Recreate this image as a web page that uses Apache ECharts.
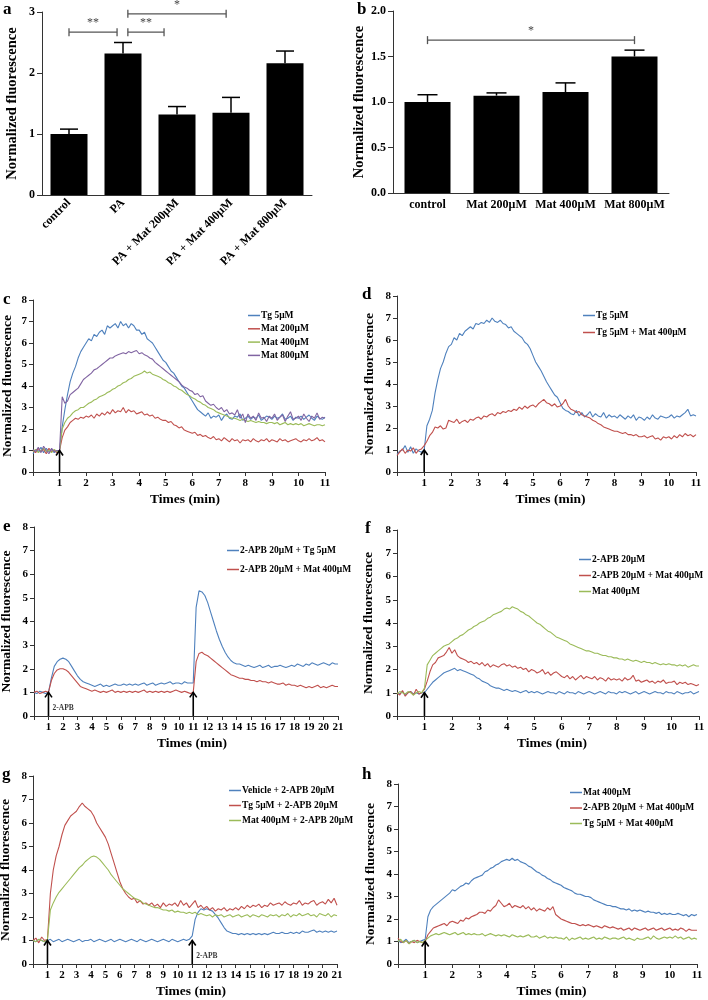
<!DOCTYPE html>
<html><head><meta charset="utf-8">
<script src="https://cdn.jsdelivr.net/npm/echarts/dist/echarts.min.js"></script>
<style>html,body{margin:0;padding:0;background:#fff}#main{width:708px;height:1000px}</style>
</head><body><div id="main"></div>
<script>
// ---------- DATA ----------
// Panel a
const aCategories = ['control', 'PA', 'PA + Mat 200μM', 'PA + Mat 400μM', 'PA + Mat 800μM'];
const aMeans = [1.00, 2.32, 1.32, 1.35, 2.16];
const aErrTop = [1.08, 2.50, 1.45, 1.60, 2.36];
const aSig = [[0.0, 0.89, 2.67, '**'], [1.09, 1.76, 2.67, '**'], [1.09, 2.91, 2.97, '*']];
// Panel b
const bCategories = ['control', 'Mat 200μM', 'Mat 400μM', 'Mat 800μM'];
const bMeans = [1.00, 1.07, 1.11, 1.50];
const bErrTop = [1.08, 1.10, 1.21, 1.57];
const bSig = [[0.0, 3.0, 1.68, '*']];

// Traces: panels c, d, f, h sampled every 0.1 min (0–11); e, g every 0.2 min (0–21)
const cTg = [0.85,1.05,0.95,1.15,0.9,1.1,0.95,1.05,0.9,1.0,
1.0,2.1,2.9,3.6,4.2,4.6,4.9,5.3,5.6,5.8,
6.0,6.2,6.1,6.4,6.3,6.5,6.6,6.4,6.8,6.7,
6.8,6.9,6.7,7.0,6.8,6.9,6.7,6.9,6.8,6.6,
6.6,6.4,6.5,6.2,6.1,6.0,5.8,5.6,5.4,5.2,
5.1,4.9,4.7,4.6,4.4,4.2,4.0,3.9,3.7,3.5,
3.3,3.1,2.9,2.8,2.7,2.6,2.75,2.5,2.6,2.55,
2.65,2.4,2.6,2.7,2.5,2.45,2.6,2.55,2.7,2.4,
2.5,2.6,2.45,2.55,2.5,2.65,2.4,2.5,2.6,2.55,
2.45,2.6,2.5,2.55,2.7,2.45,2.5,2.6,2.4,2.55,
2.5,2.6,2.45,2.55,2.65,2.5,2.4,2.6,2.5,2.45,2.55];
const cMat200 = [1.0,0.9,1.1,0.95,1.05,0.85,1.1,0.95,1.0,0.9,
1.0,1.6,1.95,2.1,2.3,2.4,2.5,2.45,2.55,2.5,
2.6,2.55,2.65,2.5,2.7,2.6,2.75,2.65,2.8,2.7,
2.9,2.75,2.85,2.8,3.0,2.75,2.9,2.8,2.85,2.7,
2.75,2.8,2.65,2.7,2.6,2.65,2.5,2.55,2.45,2.4,
2.4,2.3,2.35,2.2,2.15,2.05,2.1,1.95,1.9,1.85,
1.8,1.85,1.7,1.75,1.65,1.7,1.6,1.55,1.65,1.5,
1.55,1.45,1.6,1.5,1.4,1.55,1.45,1.5,1.35,1.5,
1.45,1.5,1.4,1.55,1.45,1.4,1.5,1.45,1.55,1.4,
1.5,1.45,1.4,1.55,1.45,1.5,1.4,1.45,1.5,1.55,
1.45,1.4,1.5,1.45,1.55,1.45,1.5,1.6,1.45,1.5,1.4];
const cMat400 = [0.95,1.05,0.9,1.0,1.1,0.95,1.0,0.9,1.05,0.95,
1.0,2.0,2.3,2.5,2.6,2.75,2.85,2.9,3.0,3.0,
3.1,3.2,3.25,3.35,3.4,3.5,3.55,3.6,3.7,3.75,
3.85,3.9,4.0,4.05,4.15,4.2,4.3,4.35,4.45,4.5,
4.55,4.6,4.7,4.6,4.65,4.55,4.5,4.45,4.4,4.3,
4.25,4.15,4.1,4.0,3.95,3.85,3.8,3.7,3.6,3.55,
3.45,3.4,3.3,3.25,3.15,3.1,3.0,2.95,2.9,2.8,
2.75,2.7,2.65,2.6,2.55,2.5,2.5,2.45,2.4,2.45,
2.4,2.35,2.4,2.35,2.3,2.35,2.3,2.3,2.25,2.3,
2.3,2.25,2.3,2.2,2.25,2.3,2.2,2.25,2.2,2.25,
2.2,2.25,2.15,2.2,2.25,2.2,2.15,2.2,2.2,2.15,2.2];
const cMat800 = [1.05,0.95,1.15,0.9,1.2,1.0,0.85,1.1,0.95,1.0,
1.0,3.5,3.2,3.3,3.6,3.7,3.8,3.9,4.1,4.3,
4.4,4.5,4.6,4.75,4.8,4.9,5.0,5.1,5.2,5.3,
5.3,5.4,5.45,5.5,5.55,5.5,5.6,5.55,5.6,5.65,
5.5,5.55,5.45,5.4,5.3,5.25,5.1,5.0,4.9,4.8,
4.7,4.6,4.5,4.4,4.3,4.2,4.05,3.95,3.9,3.8,
3.75,3.6,3.65,3.5,3.55,3.3,3.2,3.1,3.15,3.0,
2.9,3.0,2.8,2.9,2.7,2.75,2.65,2.9,2.5,2.7,
2.3,2.7,2.5,2.6,2.4,2.75,2.5,2.55,2.35,2.6,
2.5,2.7,2.4,2.55,2.65,2.35,2.6,2.8,2.45,2.5,
2.6,2.4,2.7,2.5,2.35,2.6,2.5,2.75,2.45,2.55,2.5];

const dTg = [0.8,0.95,1.0,1.2,0.9,1.15,0.85,1.05,0.95,0.9,
1.0,2.1,2.4,2.8,3.6,4.2,4.7,5.0,5.4,5.7,
5.8,6.1,6.0,6.3,6.2,6.4,6.5,6.6,6.5,6.75,
6.7,6.8,6.75,6.9,6.8,7.0,6.85,6.8,6.9,6.75,
6.7,6.55,6.6,6.4,6.3,6.2,6.1,5.9,5.8,5.6,
5.3,5.0,4.8,4.6,4.35,4.1,3.9,3.7,3.5,3.4,
3.15,2.9,2.8,2.75,2.65,2.6,2.8,2.55,2.7,2.5,
2.6,2.75,2.5,2.65,2.55,2.5,2.7,2.45,2.6,2.5,
2.55,2.45,2.6,2.5,2.4,2.55,2.45,2.6,2.35,2.5,
2.45,2.35,2.5,2.4,2.6,2.45,2.4,2.55,2.5,2.45,
2.5,2.6,2.45,2.55,2.5,2.6,2.7,2.85,2.55,2.6,2.55];
const dTgMat = [0.75,0.9,1.05,0.85,1.0,0.95,1.1,0.85,1.0,1.05,
1.2,1.4,1.65,1.8,2.05,2.0,2.1,1.95,2.0,2.35,
2.3,2.25,2.4,2.2,2.3,2.35,2.25,2.4,2.35,2.45,
2.5,2.4,2.55,2.5,2.6,2.65,2.55,2.7,2.65,2.75,
2.7,2.8,2.75,2.85,2.8,2.95,2.85,3.0,2.9,3.0,
3.05,2.95,3.1,3.2,3.3,3.15,3.1,3.0,3.1,2.95,
3.0,3.1,3.3,3.0,2.85,2.8,2.7,2.75,2.6,2.55,
2.5,2.45,2.35,2.3,2.2,2.15,2.05,2.0,1.95,1.9,
1.85,1.85,1.8,1.75,1.8,1.7,1.7,1.65,1.7,1.6,
1.6,1.65,1.55,1.6,1.65,1.5,1.55,1.45,1.6,1.55,
1.6,1.5,1.65,1.55,1.7,1.6,1.75,1.65,1.7,1.6,1.7];

const eApbTg = [1.0,0.95,1.05,1.0,0.95,
1.0,1.6,2.1,2.3,2.4,
2.45,2.4,2.3,2.1,1.9,
1.7,1.55,1.45,1.4,1.35,
1.3,1.25,1.3,1.35,1.25,
1.3,1.25,1.3,1.35,1.3,
1.3,1.35,1.3,1.35,1.3,
1.35,1.3,1.35,1.4,1.3,
1.35,1.4,1.3,1.35,1.4,
1.35,1.4,1.45,1.35,1.4,
1.4,1.35,1.45,1.4,1.4,
1.4,4.6,5.3,5.25,5.1,
4.8,4.4,4.0,3.6,3.25,
2.95,2.7,2.5,2.35,2.25,
2.2,2.2,2.15,2.1,2.15,
2.1,2.05,2.1,2.15,2.05,
2.1,2.15,2.05,2.1,2.1,
2.15,2.1,2.05,2.1,2.15,
2.1,2.2,2.15,2.1,2.2,
2.15,2.25,2.2,2.15,2.2,
2.25,2.2,2.15,2.25,2.2,
2.2];
const eApbMat = [1.0,1.05,0.95,1.0,1.05,
1.0,1.5,1.8,1.95,2.0,
2.0,1.95,1.85,1.7,1.55,
1.4,1.25,1.2,1.15,1.1,
1.05,1.1,1.05,1.0,1.05,
1.0,1.05,1.1,1.0,1.05,
1.0,1.05,1.0,1.05,1.0,
1.05,1.0,1.05,1.1,1.0,
1.05,1.0,1.05,1.0,1.05,
1.0,1.05,1.0,1.05,1.1,
1.05,1.0,1.05,1.0,0.95,
1.0,2.3,2.65,2.7,2.6,
2.55,2.45,2.35,2.25,2.15,
2.05,1.95,1.85,1.75,1.7,
1.65,1.6,1.6,1.55,1.55,
1.5,1.5,1.45,1.5,1.45,
1.45,1.4,1.45,1.4,1.35,
1.35,1.4,1.3,1.35,1.3,
1.3,1.25,1.3,1.25,1.2,
1.25,1.2,1.25,1.3,1.2,
1.25,1.2,1.25,1.3,1.25,
1.25];

const fApb = [1.0,0.95,1.05,0.9,1.0,1.05,0.95,1.0,0.95,1.0,
1.0,1.15,1.3,1.45,1.55,1.65,1.75,1.85,1.9,1.95,
2.0,2.05,1.95,2.0,1.95,1.9,1.85,1.8,1.75,1.65,
1.6,1.5,1.45,1.4,1.3,1.25,1.2,1.2,1.15,1.1,
1.15,1.1,1.05,1.1,1.05,1.0,1.05,1.1,1.0,1.05,
1.0,1.05,1.0,0.95,1.0,1.05,1.0,1.0,0.95,1.05,
1.0,0.95,1.05,1.0,1.0,0.95,1.05,1.0,0.95,1.0,
1.05,1.0,0.95,1.0,1.05,1.0,0.95,1.05,1.0,1.0,
0.95,1.05,1.0,1.05,1.0,0.95,1.0,1.05,0.95,1.0,
1.05,1.0,0.95,1.0,1.05,1.0,1.0,0.95,1.05,1.0,
1.0,0.95,1.05,1.0,0.95,1.0,1.0,1.05,0.95,1.0,1.05];
const fApbMat = [1.0,0.9,1.1,0.85,1.0,1.05,0.9,1.15,0.95,1.0,
1.15,1.5,1.9,2.2,2.3,2.5,2.55,2.6,2.75,2.95,
2.7,2.85,2.6,2.5,2.45,2.4,2.3,2.35,2.25,2.3,
2.2,2.3,2.15,2.25,2.1,2.2,2.15,2.1,2.2,2.25,
2.15,2.2,2.1,2.15,2.05,2.1,2.0,2.05,1.9,2.0,
1.95,1.85,1.9,2.0,1.8,1.9,1.75,1.85,1.9,1.8,
1.7,1.65,1.75,1.6,1.7,1.55,1.65,1.75,1.6,1.7,
1.65,1.6,1.7,1.55,1.65,1.6,1.5,1.65,1.55,1.6,
1.55,1.6,1.5,1.65,1.55,1.6,1.75,1.5,1.55,1.45,
1.5,1.55,1.45,1.5,1.4,1.5,1.45,1.55,1.4,1.45,
1.45,1.5,1.35,1.45,1.4,1.45,1.35,1.4,1.35,1.3,1.35];
const fMat = [0.95,1.05,1.0,0.95,1.05,1.0,0.9,1.0,1.05,1.0,
1.2,2.2,2.4,2.6,2.7,2.8,2.9,3.0,3.05,3.1,
3.2,3.3,3.35,3.45,3.5,3.6,3.7,3.75,3.85,3.9,
4.0,4.05,4.1,4.2,4.25,4.35,4.4,4.45,4.5,4.6,
4.65,4.6,4.7,4.65,4.6,4.5,4.45,4.35,4.3,4.2,
4.1,4.0,3.95,3.85,3.75,3.65,3.6,3.5,3.4,3.35,
3.3,3.25,3.2,3.1,3.05,3.0,2.95,2.9,2.85,2.8,
2.8,2.75,2.7,2.7,2.65,2.6,2.6,2.55,2.55,2.5,
2.5,2.45,2.45,2.4,2.45,2.4,2.35,2.4,2.35,2.3,
2.35,2.3,2.3,2.25,2.3,2.25,2.2,2.25,2.2,2.25,
2.2,2.2,2.15,2.2,2.15,2.2,2.1,2.15,2.2,2.15,2.15];

const gVehApb = [1.0,0.95,1.05,1.0,0.95,
1.0,1.05,0.95,1.0,1.05,
0.95,1.0,1.05,1.0,0.95,
1.0,1.05,0.95,1.0,1.0,
1.05,0.95,1.0,1.05,1.0,
0.95,1.0,1.05,0.95,1.0,
1.05,1.0,0.95,1.0,1.05,
1.0,0.95,1.05,1.0,0.95,
1.0,1.05,1.0,0.95,1.0,
1.05,1.0,0.95,1.05,1.0,
0.95,1.0,1.05,1.0,1.05,
1.2,1.9,2.2,2.35,2.3,
2.35,2.3,2.25,2.1,1.95,
1.75,1.55,1.4,1.35,1.3,
1.3,1.25,1.3,1.25,1.3,
1.25,1.3,1.25,1.3,1.25,
1.3,1.25,1.3,1.35,1.3,
1.3,1.35,1.3,1.3,1.35,
1.3,1.35,1.3,1.4,1.35,
1.35,1.4,1.45,1.35,1.4,
1.35,1.4,1.35,1.4,1.35,
1.4];
const gTgApb = [1.0,1.1,0.9,1.15,1.0,
1.05,3.0,4.0,4.6,5.0,
5.5,5.9,6.1,6.3,6.4,
6.5,6.7,6.85,6.7,6.6,
6.5,6.3,6.0,5.8,5.6,
5.4,5.1,4.7,4.3,3.9,
3.5,3.2,3.0,2.85,2.75,
2.8,2.6,2.7,2.55,2.6,
2.5,2.6,2.45,2.55,2.4,
2.6,2.45,2.55,2.5,2.6,
2.45,2.7,2.5,2.6,2.4,
2.55,2.7,2.4,2.5,2.35,
2.45,2.3,2.4,2.25,2.35,
2.3,2.4,2.25,2.35,2.3,
2.4,2.3,2.45,2.35,2.5,
2.4,2.5,2.45,2.55,2.4,
2.5,2.45,2.6,2.5,2.55,
2.6,2.5,2.65,2.55,2.5,
2.6,2.55,2.7,2.5,2.6,
2.55,2.65,2.7,2.5,2.6,
2.65,2.55,2.75,2.6,2.8,
2.5];
const gMatApb = [1.0,0.95,1.05,1.0,0.95,
1.05,2.3,2.6,2.85,3.05,
3.2,3.35,3.5,3.65,3.8,
3.95,4.1,4.2,4.35,4.45,
4.55,4.6,4.55,4.45,4.3,
4.15,4.0,3.8,3.65,3.5,
3.35,3.2,3.1,3.0,2.9,
2.8,2.75,2.7,2.6,2.55,
2.5,2.45,2.4,2.4,2.35,
2.3,2.3,2.25,2.3,2.2,
2.25,2.2,2.2,2.15,2.2,
2.15,2.2,2.1,2.15,2.1,
2.05,2.1,2.0,2.1,2.05,
2.1,2.0,2.05,2.1,2.0,
2.05,2.1,2.0,2.05,2.1,
2.0,2.1,2.05,2.0,2.1,
2.05,2.0,2.1,2.05,2.1,
2.0,2.1,2.05,2.15,2.0,
2.1,2.05,2.15,2.05,2.1,
2.15,2.05,2.1,2.0,2.15,
2.1,2.05,2.15,2.0,2.1,
2.05];

const hMat = [1.05,0.95,1.0,1.1,0.95,1.0,1.05,0.95,1.0,1.05,
1.1,2.1,2.4,2.55,2.65,2.75,2.85,2.95,3.05,3.15,
3.3,3.25,3.35,3.45,3.5,3.6,3.55,3.7,3.8,3.85,
3.9,3.95,4.1,4.15,4.25,4.3,4.4,4.45,4.55,4.6,
4.65,4.6,4.7,4.6,4.65,4.55,4.5,4.45,4.35,4.3,
4.2,4.1,4.05,3.95,3.9,3.8,3.75,3.65,3.6,3.55,
3.5,3.4,3.35,3.3,3.25,3.15,3.1,3.1,3.05,3.0,
3.0,2.95,2.85,2.8,2.75,2.7,2.65,2.6,2.6,2.55,
2.55,2.5,2.45,2.45,2.4,2.45,2.35,2.4,2.35,2.4,
2.35,2.3,2.35,2.3,2.3,2.25,2.3,2.2,2.25,2.2,
2.25,2.2,2.2,2.25,2.2,2.15,2.2,2.1,2.2,2.15,2.2];
const hApbMat = [1.15,1.0,0.95,1.05,0.9,1.0,0.95,1.05,1.0,0.95,
1.0,1.3,1.45,1.6,1.65,1.7,1.75,1.8,1.7,1.85,
1.9,1.85,1.8,1.95,1.9,2.05,2.0,2.1,2.15,2.2,
2.3,2.3,2.25,2.4,2.35,2.5,2.6,2.85,2.7,2.55,
2.6,2.7,2.5,2.6,2.55,2.5,2.6,2.45,2.55,2.4,
2.5,2.35,2.45,2.4,2.35,2.5,2.4,2.55,2.2,2.1,
2.0,1.95,1.9,1.85,1.8,1.8,1.75,1.7,1.75,1.7,
1.75,1.7,1.65,1.7,1.65,1.6,1.7,1.65,1.6,1.65,
1.6,1.55,1.6,1.5,1.55,1.6,1.5,1.6,1.55,1.5,
1.55,1.6,1.5,1.55,1.6,1.5,1.55,1.6,1.5,1.55,
1.6,1.5,1.55,1.5,1.6,1.55,1.45,1.55,1.5,1.5,1.5];
const hTgMat = [1.0,1.1,0.95,1.05,0.9,1.0,1.05,0.95,1.0,0.95,
1.05,1.15,1.25,1.3,1.35,1.3,1.35,1.4,1.35,1.3,
1.35,1.4,1.3,1.35,1.4,1.3,1.35,1.3,1.35,1.3,
1.3,1.35,1.25,1.3,1.35,1.3,1.25,1.3,1.25,1.3,
1.25,1.2,1.3,1.25,1.2,1.25,1.2,1.25,1.3,1.2,
1.2,1.25,1.15,1.2,1.25,1.15,1.2,1.15,1.2,1.15,
1.15,1.1,1.2,1.05,1.15,1.1,1.15,1.2,1.1,1.15,
1.1,1.15,1.2,1.1,1.15,1.1,1.2,1.15,1.1,1.15,
1.15,1.1,1.15,1.2,1.1,1.15,1.1,1.05,1.15,1.1,
1.1,1.15,1.2,1.1,1.25,1.15,1.1,1.15,1.2,1.15,
1.2,1.15,1.25,1.15,1.2,1.1,1.15,1.2,1.1,1.15,1.1];

// event times (min) marked with arrows, and arrow tip level
const arrowsSingle = [1];
const arrowsDouble = [1, 11];
const arrowTip = 1.0;

// ---------- STYLE ----------
const FONT = '"Liberation Serif", "Times New Roman", serif';
const BLUE = '#4F81BD', RED = '#C0504D', GREEN = '#9BBB59', PURPLE = '#8064A2';
const AX = '#333';

const option = {animation: false, backgroundColor: '#fff', grid: [], xAxis: [], yAxis: [], series: [], legend: [], graphic: []};

function barPanel(idx, g, cats, means, tops, sig, yMax, yInt, fmt, rotate, nameGap, capHalf, barW, labelSize) {
  option.grid.push(Object.assign({outerBoundsMode: 'none', containLabel: false}, g));
  option.xAxis.push({gridIndex: idx, type: 'category', data: cats,
    axisLine: {lineStyle: {color: AX, width: 1}},
    axisTick: {alignWithLabel: true, length: 5, lineStyle: {color: AX}},
    axisLabel: {interval: 0, rotate: rotate, margin: 6, color: '#000', fontFamily: FONT, fontWeight: 'bold', fontSize: labelSize},
    splitLine: {show: false}});
  option.yAxis.push({gridIndex: idx, type: 'value', min: 0, max: yMax, interval: yInt,
    axisLine: {show: true, lineStyle: {color: AX, width: 1}},
    axisTick: {show: true, length: 5, lineStyle: {color: AX}},
    axisLabel: {color: '#000', fontFamily: FONT, fontWeight: 'bold', fontSize: 12, margin: 7, formatter: fmt},
    splitLine: {show: false},
    name: 'Normalized fluorescence', nameLocation: 'middle', nameGap: nameGap,
    nameTextStyle: {color: '#000', fontFamily: FONT, fontWeight: 'bold', fontSize: 14.5}});
  option.series.push({type: 'bar', xAxisIndex: idx, yAxisIndex: idx, data: means, barWidth: barW,
    itemStyle: {color: '#000'}, z: 2, silent: true});
  option.series.push({type: 'custom', xAxisIndex: idx, yAxisIndex: idx, z: 3, silent: true,
    data: means.map((m, i) => [i, m, tops[i]]),
    renderItem: (params, api) => {
      const p0 = api.coord([api.value(0), api.value(1)]);
      const p1 = api.coord([api.value(0), api.value(2)]);
      return {type: 'group', children: [
        {type: 'line', shape: {x1: p0[0], y1: p0[1], x2: p1[0], y2: p1[1]}, style: {stroke: '#000', lineWidth: 1.5}},
        {type: 'line', shape: {x1: p1[0] - capHalf, y1: p1[1], x2: p1[0] + capHalf, y2: p1[1]}, style: {stroke: '#000', lineWidth: 1.5}}
      ]};
    }});
  option.series.push({type: 'custom', xAxisIndex: idx, yAxisIndex: idx, z: 3, silent: true,
    data: sig.map(s => [0, s[2]]),
    renderItem: (params, api) => {
      const s = sig[params.dataIndex];
      const c0 = api.coord([0, s[2]]), c1 = api.coord([1, s[2]]);
      const band = c1[0] - c0[0];
      const x1 = c0[0] + s[0] * band, x2 = c0[0] + s[1] * band, y = c0[1];
      const st = {stroke: '#555', lineWidth: 1.3};
      return {type: 'group', children: [
        {type: 'line', shape: {x1: x1, y1: y, x2: x2, y2: y}, style: st},
        {type: 'line', shape: {x1: x1, y1: y - 4, x2: x1, y2: y + 4}, style: st},
        {type: 'line', shape: {x1: x2, y1: y - 4, x2: x2, y2: y + 4}, style: st},
        {type: 'text', style: {text: s[3], x: (x1 + x2) / 2, y: y - 3, align: 'center', verticalAlign: 'bottom',
          fontSize: 12, fontFamily: FONT, fill: '#444'}}
      ]};
    }});
}

barPanel(0, {left: 42, top: 12, width: 270, height: 183}, aCategories, aMeans, aErrTop, aSig, 3, 1, v => v, 45, 22, 9, 37, 12);
barPanel(1, {left: 393, top: 11, width: 276, height: 182}, bCategories, bMeans, bErrTop, bSig, 2, 0.5, v => v.toFixed(1), 0, 19, 10, 46, 12);

const linePanels = [
  {letter: 'c', g: {left: 33, top: 300, width: 292, height: 172}, xMax: 11, step: 0.1, nameGap: 18, xShift: 12,
   series: [['Tg 5μM', cTg, BLUE], ['Mat 200μM', cMat200, RED], ['Mat 400μM', cMat400, GREEN], ['Mat 800μM', cMat800, PURPLE]],
   legend: {left: 243, top: 305, gap: 2.3}, arrows: arrowsSingle, apb: null},
  {letter: 'd', g: {left: 397, top: 296, width: 299, height: 176}, xMax: 11, step: 0.1, nameGap: 20, xShift: 8,
   series: [['Tg 5μM', dTg, BLUE], ['Tg 5μM + Mat 400μM', dTgMat, RED]],
   legend: {left: 578, top: 305, gap: 6}, arrows: arrowsSingle, apb: null},
  {letter: 'e', g: {left: 34, top: 527, width: 304, height: 189}, xMax: 21, step: 0.2, nameGap: 20, xShift: 12,
   series: [['2-APB 20μM + Tg 5μM', eApbTg, BLUE], ['2-APB 20μM + Mat 400μM', eApbMat, RED]],
   legend: {left: 222, top: 540, gap: 8}, arrows: arrowsDouble, apb: 0},
  {letter: 'f', g: {left: 397, top: 530, width: 302, height: 186}, xMax: 11, step: 0.1, nameGap: 21, xShift: 8,
   series: [['2-APB 20μM', fApb, BLUE], ['2-APB 20μM + Mat 400μM', fApbMat, RED], ['Mat 400μM', fMat, GREEN]],
   legend: {left: 574, top: 549, gap: 5}, arrows: arrowsSingle, apb: null},
  {letter: 'g', g: {left: 33, top: 776, width: 304, height: 188}, xMax: 21, step: 0.2, nameGap: 20, xShift: 12,
   series: [['Vehicle + 2-APB 20μM', gVehApb, BLUE], ['Tg 5μM + 2-APB 20μM', gTgApb, RED], ['Mat 400μM + 2-APB 20μM', gMatApb, GREEN]],
   legend: {left: 224, top: 780, gap: 4}, arrows: arrowsDouble, apb: 1},
  {letter: 'h', g: {left: 398, top: 784, width: 299, height: 180}, xMax: 11, step: 0.1, nameGap: 20, xShift: 8,
   series: [['Mat 400μM', hMat, BLUE], ['2-APB 20μM + Mat 400μM', hApbMat, RED], ['Tg 5μM + Mat 400μM', hTgMat, GREEN]],
   legend: {left: 565, top: 782, gap: 4.5}, arrows: arrowsSingle, apb: null}
];

const ZW = '\u200b';
linePanels.forEach((p, k) => {
  const idx = k + 2;
  option.grid.push(Object.assign({outerBoundsMode: 'none', containLabel: false}, p.g));
  option.xAxis.push({gridIndex: idx, type: 'value', min: 0, max: p.xMax, interval: 1,
    axisLine: {show: true, onZero: false, lineStyle: {color: AX, width: 1}},
    axisTick: {show: true, length: 4, lineStyle: {color: AX}},
    axisLabel: {color: '#000', fontFamily: FONT, fontWeight: 'bold', fontSize: 11, margin: 6,
      formatter: v => (v === 0 ? '' : String(v))},
    splitLine: {show: false},
    name: 'Times (min)', nameLocation: 'middle', nameGap: 21,
    nameTextStyle: {color: '#000', fontFamily: FONT, fontWeight: 'bold', fontSize: 13.5, padding: [0, 0, 0, p.xShift]}});
  option.yAxis.push({gridIndex: idx, type: 'value', min: 0, max: 8, interval: 1,
    axisLine: {show: true, lineStyle: {color: AX, width: 1}},
    axisTick: {show: true, length: 4, lineStyle: {color: AX}},
    axisLabel: {color: '#000', fontFamily: FONT, fontWeight: 'bold', fontSize: 11, margin: 6},
    splitLine: {show: false},
    name: 'Normalized fluorescence', nameLocation: 'middle', nameGap: p.nameGap,
    nameTextStyle: {color: '#000', fontFamily: FONT, fontWeight: 'bold', fontSize: 13.5}});
  const suffix = ZW.repeat(k + 1);
  const names = [];
  p.series.forEach((s) => {
    const nm = s[0] + suffix;
    names.push(nm);
    option.series.push({type: 'line', name: nm, xAxisIndex: idx, yAxisIndex: idx, showSymbol: false, symbol: 'none',
      data: s[1].map((v, i) => [Math.round(i * p.step * 100) / 100, v]),
      lineStyle: {color: s[2], width: 1.1}, itemStyle: {color: s[2]}, z: 2, silent: true});
  });
  // event arrows, drawn on top of the traces
  option.series.push({type: 'custom', xAxisIndex: idx, yAxisIndex: idx, z: 10, silent: true,
    data: p.arrows.map(t => [t, 0, arrowTip]),
    renderItem: (params, api) => {
      const b = api.coord([api.value(0), api.value(1)]);
      const t = api.coord([api.value(0), api.value(2)]);
      const st = {stroke: '#000', lineWidth: 1.6, fill: null};
      return {type: 'group', children: [
        {type: 'line', shape: {x1: b[0], y1: b[1], x2: t[0], y2: t[1]}, style: st},
        {type: 'polyline', shape: {points: [[t[0] - 3.5, t[1] + 5], [t[0], t[1]], [t[0] + 3.5, t[1] + 5]]}, style: st}
      ]};
    }});
  if (p.apb !== null) {
    const t = p.arrows[p.apb];
    option.series.push({type: 'scatter', xAxisIndex: idx, yAxisIndex: idx, symbolSize: 0, silent: true, z: 5,
      data: [[t, 0.35]],
      label: {show: true, position: 'right', distance: 4, formatter: '2-APB', color: '#000',
        fontFamily: FONT, fontWeight: 'bold', fontSize: 7.5}});
  }
  option.legend.push({left: p.legend.left, top: p.legend.top, orient: 'vertical', data: names,
    icon: 'rect', itemWidth: 12, itemHeight: 1.5, itemGap: p.legend.gap, selectedMode: false,
    formatter: n => n.replace(/\u200b/g, ''),
    textStyle: {color: '#000', fontFamily: FONT, fontWeight: 'bold', fontSize: 9.5, lineHeight: 11, padding: [0, 0, 0, -4]}});
});

const letters = [['a', 3, 1], ['b', 357, 1], ['c', 3, 291], ['d', 362, 286], ['e', 3, 518], ['f', 365, 520], ['g', 2, 766], ['h', 362, 766]];
letters.forEach(l => option.graphic.push({type: 'text', left: l[1], top: l[2],
  style: {text: l[0], fontFamily: FONT, fontWeight: 'bold', fontSize: 17, fill: '#000'}}));

const chart = echarts.init(document.getElementById('main'), null, {renderer: 'canvas'});
chart.setOption(option);
</script></body></html>
